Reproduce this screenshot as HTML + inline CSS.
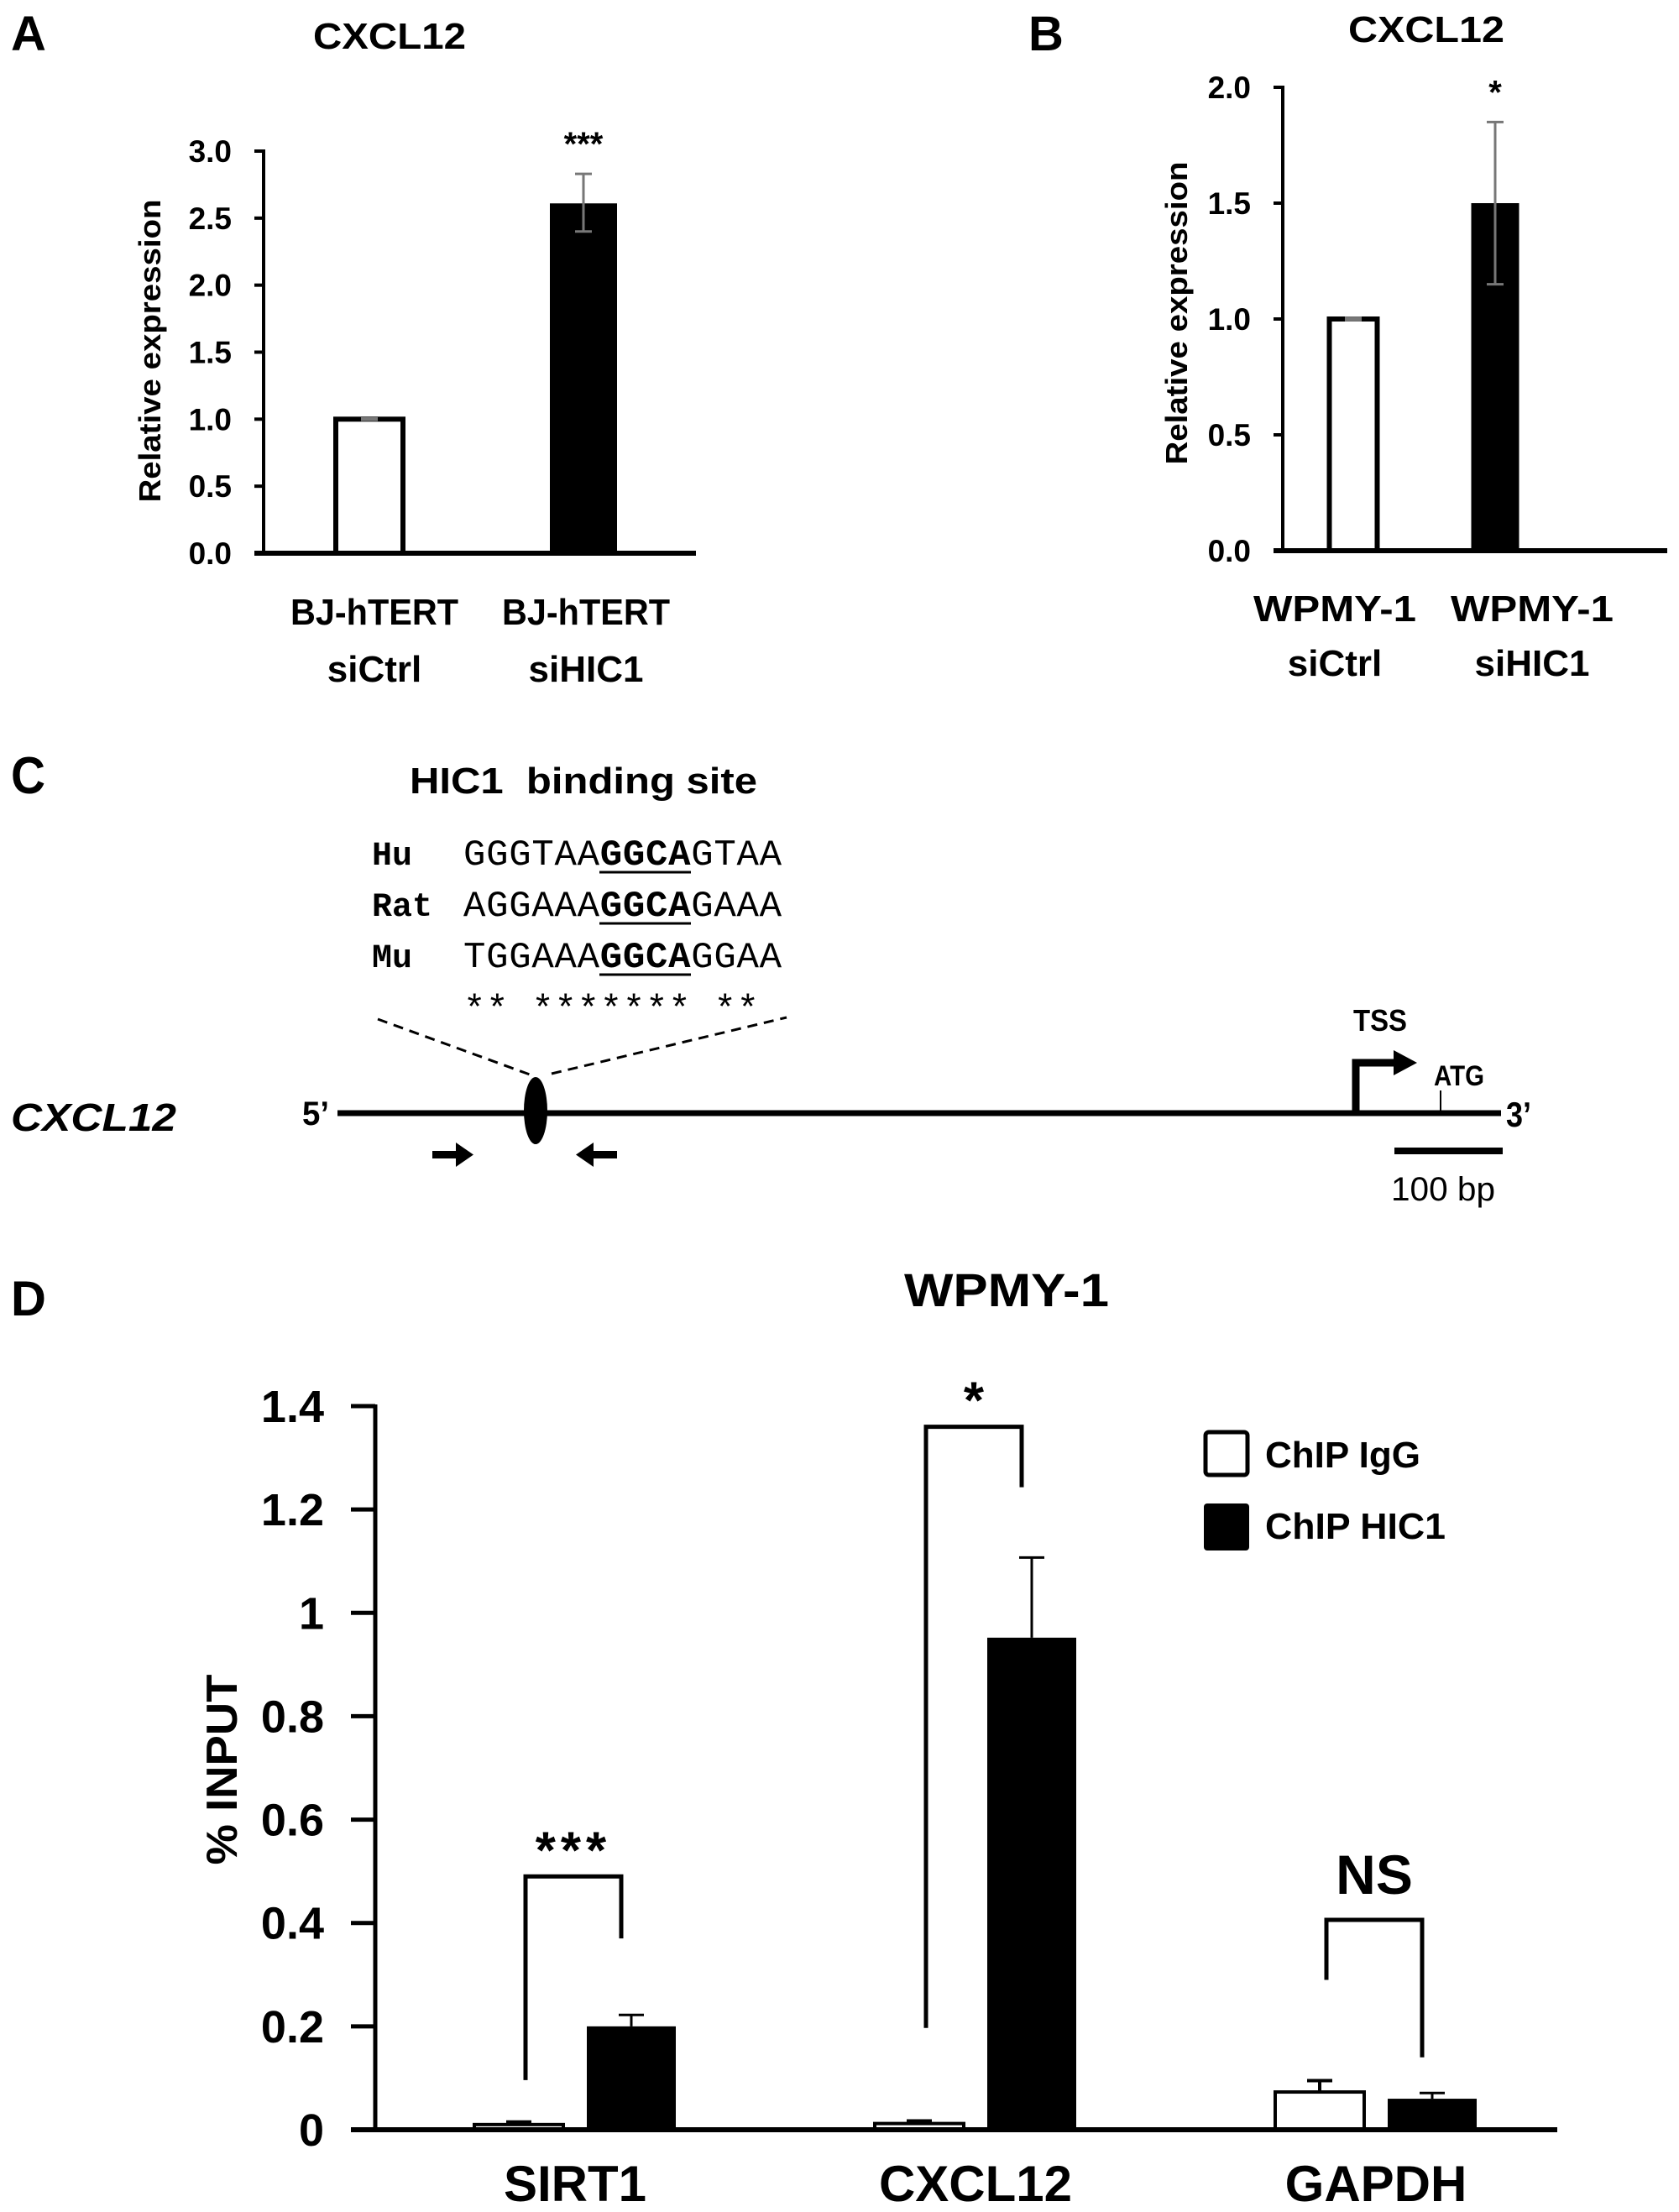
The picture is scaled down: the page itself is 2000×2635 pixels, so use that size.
<!DOCTYPE html>
<html><head><meta charset="utf-8"><style>
html,body{margin:0;padding:0;background:#fff;}
svg{display:block;}
text{font-family:"Liberation Sans",Arial,sans-serif;font-weight:bold;fill:#000;}
.mono{font-family:"Liberation Mono","Courier New",monospace;}
</style></head><body>
<svg id="fig" xmlns="http://www.w3.org/2000/svg" width="2000" height="2635" viewBox="0 0 2000 2635">
<rect x="0" y="0" width="2000" height="2635" fill="#fff"/>
<text x="13" y="60" font-size="58">A</text>
<text x="464" y="58" font-size="44" text-anchor="middle" textLength="182" lengthAdjust="spacingAndGlyphs">CXCL12</text>
<text transform="translate(191,418) rotate(-90)" font-size="36" text-anchor="middle" textLength="361" lengthAdjust="spacingAndGlyphs">Relative expression</text>
<text x="1225" y="60" font-size="58">B</text>
<text x="1699" y="50" font-size="44" text-anchor="middle" textLength="186" lengthAdjust="spacingAndGlyphs">CXCL12</text>
<text transform="translate(1414,373) rotate(-90)" font-size="36" text-anchor="middle" textLength="361" lengthAdjust="spacingAndGlyphs">Relative expression</text>
<text x="13" y="945" font-size="62" textLength="41" lengthAdjust="spacingAndGlyphs">C</text>
<text x="488" y="945" font-size="44" textLength="414" lengthAdjust="spacingAndGlyphs" xml:space="preserve">HIC1  binding site</text>
<g>
<text class="mono" x="443" y="1030" font-size="40">Hu</text>
<text class="mono" x="443" y="1091" font-size="40">Rat</text>
<text class="mono" x="443" y="1152" font-size="40">Mu</text>
<text class="mono" x="552" y="1030" font-size="44" style="font-weight:normal" textLength="379">GGGTAA<tspan style="font-weight:bold">GGCA</tspan>GTAA</text>
<text class="mono" x="552" y="1091" font-size="44" style="font-weight:normal" textLength="379">AGGAAA<tspan style="font-weight:bold">GGCA</tspan>GAAA</text>
<text class="mono" x="552" y="1152" font-size="44" style="font-weight:normal" textLength="379">TGGAAA<tspan style="font-weight:bold">GGCA</tspan>GGAA</text>
<text class="mono" x="552" y="1215" font-size="44" style="font-weight:normal" textLength="352" xml:space="preserve">** ******* **</text>
<line x1="714" y1="1039" x2="823" y2="1039" stroke="#000" stroke-width="3"/>
<line x1="714" y1="1100" x2="823" y2="1100" stroke="#000" stroke-width="3"/>
<line x1="714" y1="1161" x2="823" y2="1161" stroke="#000" stroke-width="3"/>
</g>
<line x1="450" y1="1214" x2="631" y2="1280" stroke="#000" stroke-width="3" stroke-dasharray="12,8"/>
<line x1="657" y1="1279" x2="937" y2="1212" stroke="#000" stroke-width="3" stroke-dasharray="12,8"/>
<text x="13" y="1347" font-size="46" font-style="italic" textLength="197" lengthAdjust="spacingAndGlyphs">CXCL12</text>
<text x="360" y="1340" font-size="40" textLength="32" lengthAdjust="spacingAndGlyphs">5’</text>
<line x1="402" y1="1326" x2="1788" y2="1326" stroke="#000" stroke-width="7"/>
<ellipse cx="638" cy="1323" rx="14" ry="40" fill="#000"/>
<g>
<rect x="515" y="1371" width="30" height="9" fill="#000"/>
<polygon points="543,1361 564,1375.5 543,1390" fill="#000"/>
</g>
<g>
<rect x="705" y="1371" width="30" height="9" fill="#000"/>
<polygon points="707,1361 686,1375.5 707,1390" fill="#000"/>
</g>
<g>
<path d="M1615,1326 L1615,1266 L1662,1266" fill="none" stroke="#000" stroke-width="9"/>
<polygon points="1660,1251 1688,1266 1660,1281" fill="#000"/>
</g>
<text x="1612" y="1228" font-size="36" textLength="64" lengthAdjust="spacingAndGlyphs">TSS</text>
<line x1="1716" y1="1299" x2="1716" y2="1326" stroke="#000" stroke-width="2"/>
<text x="1708" y="1293" font-size="34" textLength="60" lengthAdjust="spacingAndGlyphs">ATG</text>
<text x="1794" y="1342" font-size="42" textLength="30" lengthAdjust="spacingAndGlyphs">3’</text>
<line x1="1661" y1="1371" x2="1790" y2="1371" stroke="#000" stroke-width="8"/>
<text x="1657" y="1430" font-size="40" style="font-weight:normal" textLength="124" lengthAdjust="spacingAndGlyphs">100 bp</text>
<text x="13" y="1567" font-size="58">D</text>
<text x="1199" y="1556" font-size="56" text-anchor="middle" textLength="244" lengthAdjust="spacingAndGlyphs">WPMY-1</text>
<text transform="translate(282,2108) rotate(-90)" font-size="52" text-anchor="middle" textLength="227" lengthAdjust="spacingAndGlyphs">% INPUT</text>
<g>
<rect x="1436" y="1706" width="50" height="51" rx="4" fill="#fff" stroke="#000" stroke-width="5"/>
<text x="1507" y="1748" font-size="44" textLength="185" lengthAdjust="spacingAndGlyphs">ChIP IgG</text>
<rect x="1434" y="1791" width="54" height="56" rx="4" fill="#000"/>
<text x="1507" y="1833" font-size="44" textLength="215" lengthAdjust="spacingAndGlyphs">ChIP HIC1</text>
</g>
</svg>
<script>
const aCatLine1 = ["BJ-hTERT", "BJ-hTERT"];
const aCatLine2 = ["siCtrl", "siHIC1"];
const aValues = [1.0, 2.61];
const aErrLow = [0.995, 2.40];
const aErrHigh = [1.005, 2.83];
const aSig = ["", "***"];
const aTickVals = [0, 0.5, 1.0, 1.5, 2.0, 2.5, 3.0];
const aTickLabels = ["0.0", "0.5", "1.0", "1.5", "2.0", "2.5", "3.0"];
const bCatLine1 = ["WPMY-1", "WPMY-1"];
const bCatLine2 = ["siCtrl", "siHIC1"];
const bValues = [1.0, 1.5];
const bErrLow = [0.995, 1.15];
const bErrHigh = [1.005, 1.85];
const bSig = ["", "*"];
const bTickVals = [0, 0.5, 1.0, 1.5, 2.0];
const bTickLabels = ["0.0", "0.5", "1.0", "1.5", "2.0"];
const dCategories = ["SIRT1", "CXCL12", "GAPDH"];
const dIgG = [0.010, 0.012, 0.073];
const dIgGErr = [0.005, 0.005, 0.022];
const dHIC1 = [0.20, 0.952, 0.060];
const dHIC1Err = [0.022, 0.155, 0.011];
const dSigLabels = ["***", "*", "NS"];
const dBracketLeftBottom = [0.096, 0.197, 0.29];
const dBracketTop = [0.49, 1.36, 0.406];
const dBracketRightBottom = [0.37, 1.243, 0.14];
const dTickVals = [0, 0.2, 0.4, 0.6, 0.8, 1.0, 1.2, 1.4];
const dTickLabels = ["0", "0.2", "0.4", "0.6", "0.8", "1", "1.2", "1.4"];

const NS = "http://www.w3.org/2000/svg";
const svg = document.getElementById("fig");
function mk(tag, attrs, parent) {
  const el = document.createElementNS(NS, tag);
  for (const k in attrs) el.setAttribute(k, attrs[k]);
  (parent || svg).appendChild(el);
  return el;
}
const yA = v => 659 - v / 3.0 * 479;
const xA = i => [440, 695][i];
const lxA = i => [446, 698][i];
const yB = v => 656 - v / 2.0 * 552;
const xB = i => [1612, 1781][i];
const lxB = i => [1590, 1825][i];
const yD = v => 2537 - v / 1.4 * 862;
const xDGroup = i => 685 + i * 477;

function simplePanel(p, yf, xf, lxf, vals, lo, hi, sig, tv, tl, l1, l2, axisX, axisEnd, labelRight, barW, lineB1, lineB2, labW1) {
  const g = mk("g", {});
  
  
  for (let i = 0; i < tv.length; i++) {
    const t = mk("line", {x1: axisX - 11, x2: axisX, y1: yf(tv[i]), y2: yf(tv[i]), stroke: "#000", "stroke-width": 4}, g);
    
    
    const tx = mk("text", {x: labelRight, y: yf(tv[i]) + 13, "font-size": 37, "text-anchor": "end"}, g);
    tx.textContent = tl[i];
    
    
  }
  for (let i = 0; i < vals.length; i++) {
    const x0 = xf(i) - barW / 2;
    const y0 = yf(vals[i]);
    const bar = mk("rect", {x: x0, y: y0, width: barW, height: yf(0) - y0,
      fill: i === 0 ? "#fff" : "#000", stroke: "#000", "stroke-width": i === 0 ? 6 : 0}, g);
    
    
    const eg = mk("path", {d: "M" + (xf(i) - 10) + "," + yf(hi[i]) + " H" + (xf(i) + 10) + " M" + xf(i) + "," + yf(hi[i]) + " V" + yf(lo[i]) + " M" + (xf(i) - 10) + "," + yf(lo[i]) + " H" + (xf(i) + 10),
      stroke: "#777", "stroke-width": 3, fill: "none"}, g);
    
    
    if (sig[i]) {
      const s = mk("text", {x: xf(i), y: yf(hi[i]) - 22, "font-size": 40, "text-anchor": "middle"}, g);
      s.textContent = sig[i];
      
      
    }
    const c1 = mk("text", {x: lxf(i), y: lineB1, "font-size": 44, "text-anchor": "middle", textLength: labW1, lengthAdjust: "spacingAndGlyphs"}, g);
    c1.textContent = l1[i];
    
    
    const c2 = mk("text", {x: lxf(i), y: lineB2, "font-size": 44, "text-anchor": "middle"}, g);
    c2.textContent = l2[i];
    
    
  }
  const ya = mk("line", {x1: axisX, x2: axisX, y1: yf(tv[tv.length - 1]) - 2, y2: yf(0) + 3, stroke: "#000", "stroke-width": 4}, g);
  
  
  const xa = mk("line", {x1: axisX - 11, x2: axisEnd, y1: yf(0), y2: yf(0), stroke: "#000", "stroke-width": 6}, g);
  
  
}
simplePanel('a', yA, xA, lxA, aValues, aErrLow, aErrHigh, aSig, aTickVals, aTickLabels, aCatLine1, aCatLine2, 314, 829, 276, 80, 744, 812, 200);
simplePanel('b', yB, xB, lxB, bValues, bErrLow, bErrHigh, bSig, bTickVals, bTickLabels, bCatLine1, bCatLine2, 1528, 1986, 1490, 57, 740, 805, 194);

const gd = mk("g", {});


for (let i = 0; i < dTickVals.length; i++) {
  const t = mk("line", {x1: 418, x2: 447, y1: yD(dTickVals[i]), y2: yD(dTickVals[i]), stroke: "#000", "stroke-width": 5}, gd);
  
  
  const tx = mk("text", {x: 386, y: yD(dTickVals[i]) + 19, "font-size": 54, "text-anchor": "end"}, gd);
  tx.textContent = dTickLabels[i];
  
  
}
const BW = 106, OFF = 67;
for (let i = 0; i < dCategories.length; i++) {
  const cx = xDGroup(i);
  const wx = cx - OFF, bx = cx + OFF;
  const e1 = mk("path", {d: "M" + (wx - 15) + "," + yD(dIgG[i] + dIgGErr[i]) + " H" + (wx + 15) + " M" + wx + "," + yD(dIgG[i] + dIgGErr[i]) + " V" + yD(dIgG[i]), stroke: "#000", "stroke-width": 4, fill: "none"}, gd);
  
  
  const b1 = mk("rect", {x: wx - BW / 2, y: yD(dIgG[i]), width: BW, height: yD(0) - yD(dIgG[i]), fill: "#fff", stroke: "#000", "stroke-width": 4}, gd);
  
  
  const e2 = mk("path", {d: "M" + (bx - 15) + "," + yD(dHIC1[i] + dHIC1Err[i]) + " H" + (bx + 15) + " M" + bx + "," + yD(dHIC1[i] + dHIC1Err[i]) + " V" + yD(dHIC1[i]), stroke: "#000", "stroke-width": 3, fill: "none"}, gd);
  
  
  const b2 = mk("rect", {x: bx - BW / 2, y: yD(dHIC1[i]), width: BW, height: yD(0) - yD(dHIC1[i]), fill: "#000"}, gd);
  
  
  const lx = wx + 8, rx = bx - 12;
  const br = mk("path", {d: "M" + lx + "," + yD(dBracketLeftBottom[i]) + " V" + yD(dBracketTop[i]) + " H" + rx + " V" + yD(dBracketRightBottom[i]), stroke: "#000", "stroke-width": 5, fill: "none"}, gd);
  
  
  const sl = mk("text", {x: (lx + rx) / 2, y: yD(dBracketTop[i]) - (dSigLabels[i] === "NS" ? 31 : 10), "font-size": dSigLabels[i] === "NS" ? 66 : 62, "text-anchor": "middle", "letter-spacing": dSigLabels[i] === "***" ? 6 : 0}, gd);
  sl.textContent = dSigLabels[i];
  
  
  const cl = mk("text", {x: cx, y: 2622, "font-size": 60, "text-anchor": "middle"}, gd);
  cl.textContent = dCategories[i];
  
  
}
const dya = mk("line", {x1: 447, x2: 447, y1: yD(1.4) - 2, y2: yD(0) + 3, stroke: "#000", "stroke-width": 5}, gd);


const dxa = mk("line", {x1: 418, x2: 1855, y1: yD(0), y2: yD(0), stroke: "#000", "stroke-width": 6}, gd);


</script>
</body></html>
